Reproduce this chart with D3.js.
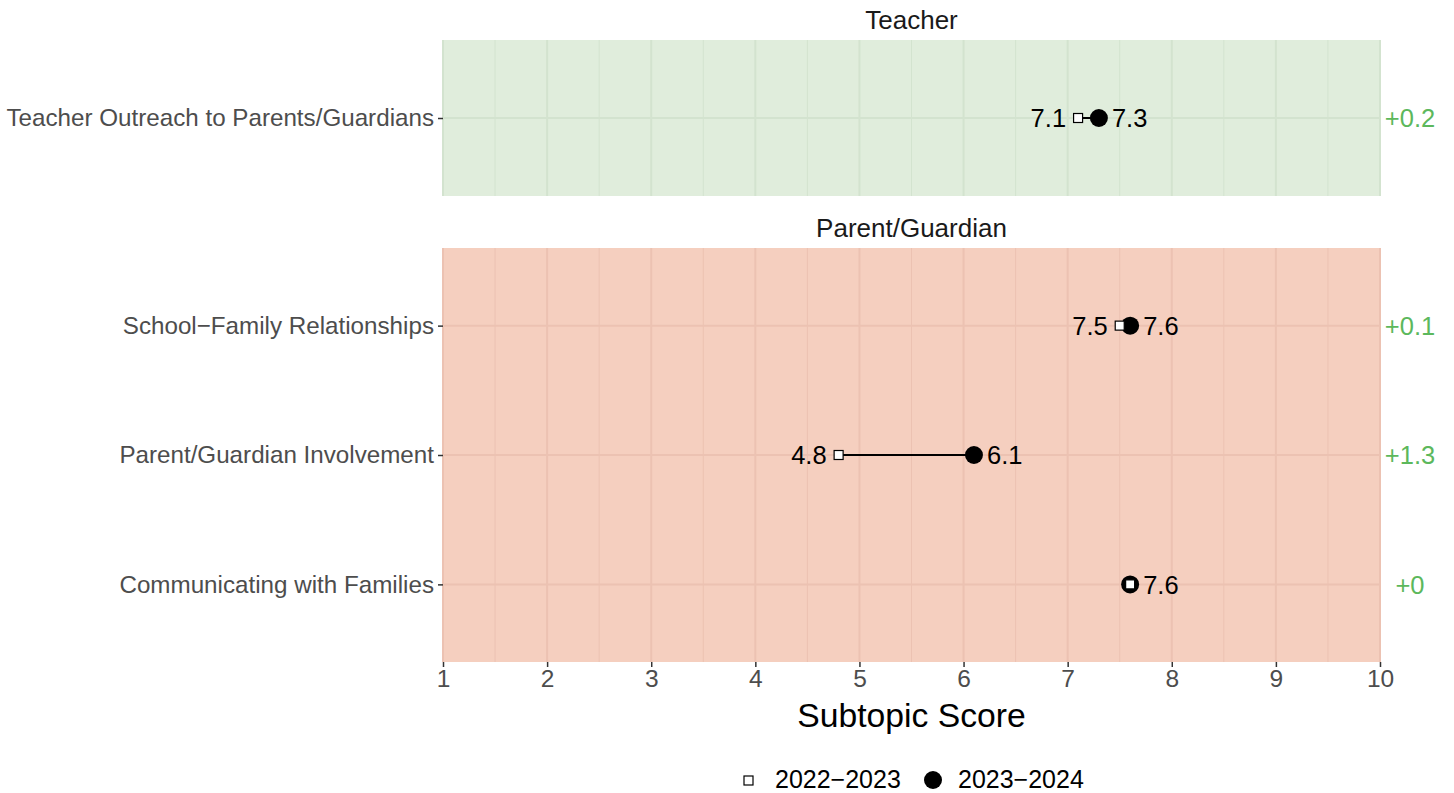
<!DOCTYPE html>
<html><head><meta charset="utf-8">
<script src="https://cdn.jsdelivr.net/npm/d3@7"></script>
<style>body{margin:0;background:#fff}svg text{font-family:"Liberation Sans",Arial,sans-serif}</style>
</head><body><svg id="c" width="1454" height="793"></svg>
<script>
const panels = ["Teacher", "Parent/Guardian"];
const categories = [
  ["Teacher Outreach to Parents/Guardians"],
  ["School\u2212Family Relationships", "Parent/Guardian Involvement", "Communicating with Families"]
];
const values2022 = [[7.1], [7.5, 4.8, 7.6]];
const values2023 = [[7.3], [7.6, 6.1, 7.6]];
const deltas = [["+0.2"], ["+0.1", "+1.3", "+0"]];
const xTicks = [1,2,3,4,5,6,7,8,9,10];
const legendLabels = ["2022\u22122023", "2023\u22122024"];
const panelFill = ["#e0eddc", "#f5cfbf"];
const gridCol = ["#d3e3cf", "#ecc2b2"];

const svg = d3.select("#c");
const x = d3.scaleLinear().domain([1,10]).range([443,1380]);
const panelBox = [[40,196],[248,662]];

panels.forEach((p,i)=>{
  const [y0,y1] = panelBox[i];
  const cats = categories[i];
  const y = d3.scalePoint().domain(cats).range([y0,y1]).padding(0.6);
  const g = svg.append("g");
  g.append("rect").attr("x",x(1)).attr("y",y0).attr("width",x(10)-x(1)).attr("height",y1-y0).attr("fill",panelFill[i]);
  const minor = d3.range(1.5,10,1);
  g.selectAll(".mn").data(minor).join("line").attr("x1",d=>x(d)).attr("x2",d=>x(d)).attr("y1",y0).attr("y2",y1).attr("stroke",gridCol[i]).attr("stroke-width",1);
  g.selectAll(".mj").data(xTicks).join("line").attr("x1",d=>x(d)).attr("x2",d=>x(d)).attr("y1",y0).attr("y2",y1).attr("stroke",gridCol[i]).attr("stroke-width",2);
  g.selectAll(".hy").data(cats).join("line").attr("x1",x(1)).attr("x2",x(10)).attr("y1",d=>y(d)).attr("y2",d=>y(d)).attr("stroke",gridCol[i]).attr("stroke-width",2);
  g.append("text").attr("x",(x(1)+x(10))/2).attr("y",y0-11).attr("text-anchor","middle").attr("font-size",26).attr("fill","#1a1a1a").text(p);
  const ya = g.append("g").attr("transform",`translate(${x(1)},0)`).call(d3.axisLeft(y).tickSize(5).tickPadding(4));
  ya.select(".domain").remove();
  ya.selectAll(".tick line").attr("stroke","#333").attr("stroke-width",1.5);
  ya.selectAll(".tick text").attr("font-size",24.2).attr("fill","#4d4d4d").style("font-family","Liberation Sans, Arial, sans-serif");
  cats.forEach((c,j)=>{
    const a = values2022[i][j], b = values2023[i][j], cy = y(c);
    g.append("line").attr("x1",x(a)).attr("x2",x(b)).attr("y1",cy).attr("y2",cy).attr("stroke","#000").attr("stroke-width",2);
    g.append("circle").attr("cx",x(b)).attr("cy",cy).attr("r",9).attr("fill","#000");
    g.append("rect").attr("x",x(a)-4.5).attr("y",cy-4.5).attr("width",9).attr("height",9).attr("fill","#fff").attr("stroke","#000").attr("stroke-width",1.2);
    g.append("text").attr("x",x(b)+13).attr("y",cy).attr("dy","0.36em").attr("font-size",25.5).attr("fill","#000").text(b.toFixed(1));
    if (a !== b) g.append("text").attr("x",x(a)-12).attr("y",cy).attr("dy","0.36em").attr("text-anchor","end").attr("font-size",25.5).attr("fill","#000").text(a.toFixed(1));
    g.append("text").attr("x",1410).attr("y",cy).attr("dy","0.36em").attr("text-anchor","middle").attr("font-size",25.5).attr("fill","#5cb85c").text(deltas[i][j]);
  });
});

const xa = svg.append("g").attr("transform",`translate(0,${panelBox[1][1]})`).call(d3.axisBottom(x).tickValues(xTicks).tickSize(5).tickPadding(3).tickFormat(d3.format("d")));
xa.select(".domain").remove();
xa.selectAll(".tick line").attr("stroke","#333").attr("stroke-width",1.5);
xa.selectAll(".tick text").attr("font-size",24.5).attr("fill","#4d4d4d").style("font-family","Liberation Sans, Arial, sans-serif");
svg.append("text").attr("x",(x(1)+x(10))/2).attr("y",727).attr("text-anchor","middle").attr("font-size",33.7).attr("fill","#000").text("Subtopic Score");

const lg = svg.append("g");
lg.append("rect").attr("x",744).attr("y",776).attr("width",9).attr("height",9).attr("fill","#fff").attr("stroke","#000").attr("stroke-width",1.2);
lg.append("text").attr("x",775).attr("y",779).attr("dy","0.35em").attr("font-size",25).text(legendLabels[0]);
lg.append("circle").attr("cx",933).attr("cy",780).attr("r",9).attr("fill","#000");
lg.append("text").attr("x",958).attr("y",779).attr("dy","0.35em").attr("font-size",25).text(legendLabels[1]);
</script></body></html>
